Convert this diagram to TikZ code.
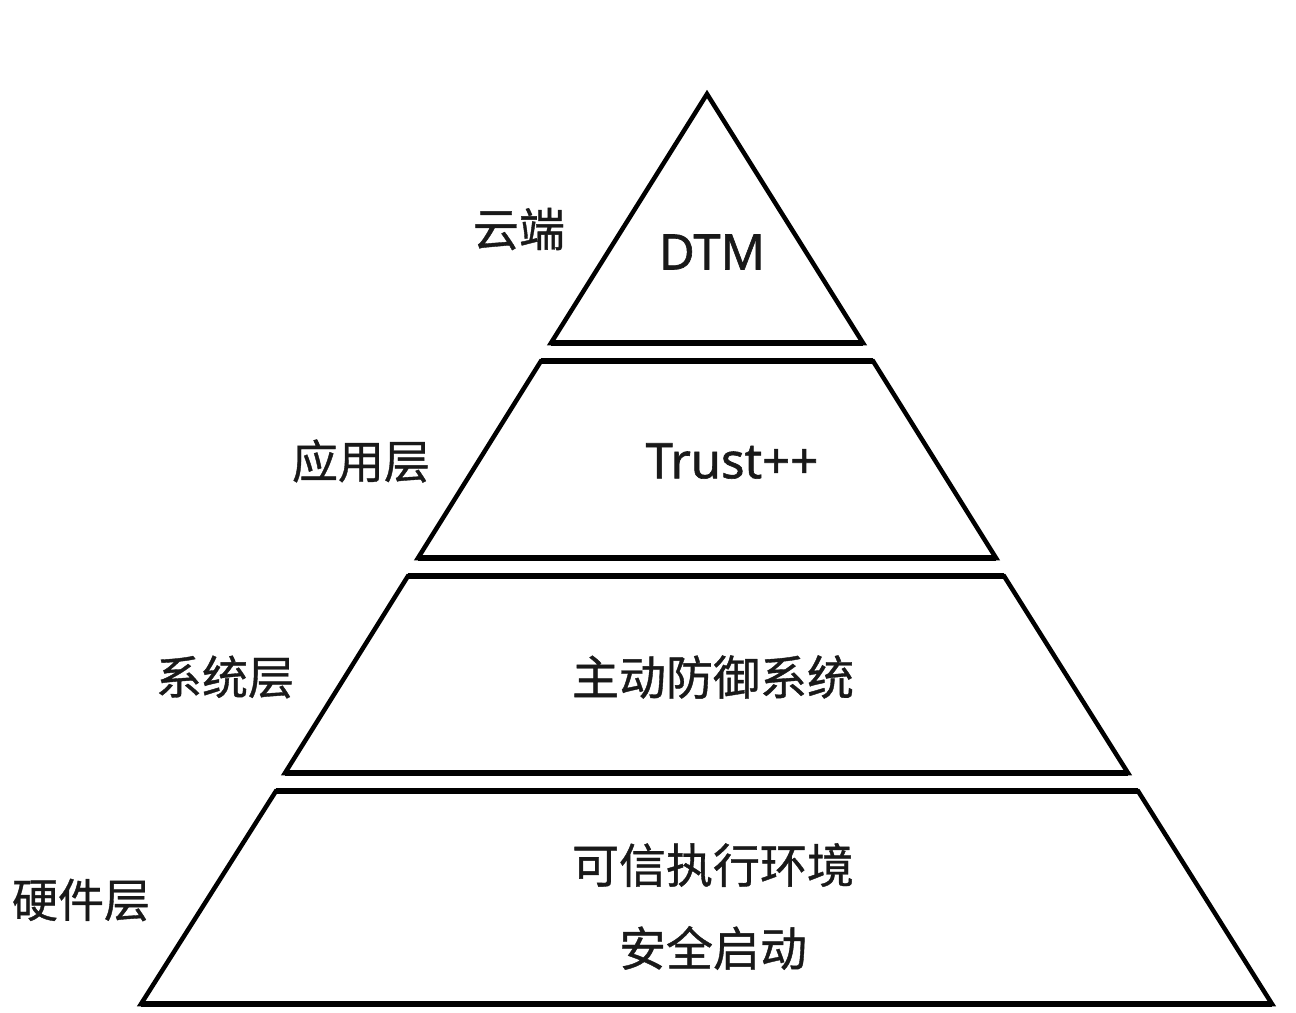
\documentclass[tikz,border=0pt]{standalone}
\usepackage{fontspec}
\setmainfont{Noto Sans}
\newfontfamily\cjk{Noto Sans CJK SC}[UprightFeatures={FakeBold=0.8}]
\newfontfamily\latinfont{Noto Sans}[UprightFeatures={FakeBold=1.2}]
\begin{document}
\begin{tikzpicture}[x=1bp,y=-1bp,
  layer/.style={draw=black,line width=4.5bp,line join=miter,fill=white},
  edge/.style={line width=6.5bp,line cap=butt},
  lbl/.style={font=\cjk\fontsize{46bp}{50bp}\selectfont,inner sep=0pt,text=black!90},
  inlbl/.style={font=\cjk\fontsize{47bp}{50bp}\selectfont,inner sep=0pt,text=black!90},
  latin/.style={font=\latinfont\fontsize{49bp}{54bp}\selectfont,inner sep=0pt,text=black!90}]
\useasboundingbox (0,0) rectangle (1296,1013);
\fill[white] (0,0) rectangle (1296,1013);
% cloud triangle
\draw[layer] (707,94) -- (863,343) -- (551,343) -- cycle;
\draw[edge] (551,343) -- (863,343);
% application trapezoid
\draw[layer] (541,361) -- (873,361) -- (996,558) -- (418,558) -- cycle;
\draw[edge] (541,361) -- (873,361);
\draw[edge] (418,558) -- (996,558);
% system trapezoid
\draw[layer] (408,576) -- (1004,576) -- (1128,773) -- (285,773) -- cycle;
\draw[edge] (408,576) -- (1004,576);
\draw[edge] (285,773) -- (1128,773);
% hardware trapezoid
\draw[layer] (276,791) -- (1138,791) -- (1272,1004) -- (141,1004) -- cycle;
\draw[edge] (276,791) -- (1138,791);
\draw[edge] (141,1004) -- (1272,1004);
% labels
\node[lbl] (l1) at (519,229) {云端};
\node[latin] (t1) at (712,252) {DTM};
\node[lbl] (l2) at (361,461) {应用层};
\node[latin] (t2) at (732,461) {Trust++};
\node[lbl] (l3) at (225,677) {系统层};
\node[inlbl] (t3) at (713,677) {主动防御系统};
\node[lbl] (l4) at (81,900) {硬件层};
\node[inlbl] (t4) at (713,865) {可信执行环境};
\node[inlbl] (t5) at (713,948) {安全启动};
\end{tikzpicture}
\end{document}
